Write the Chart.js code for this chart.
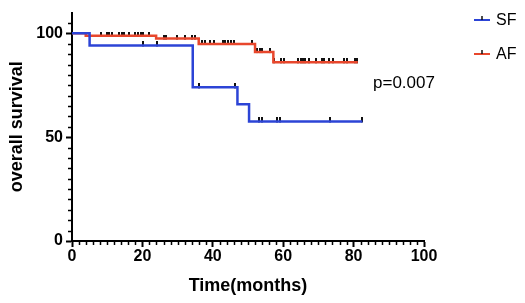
<!DOCTYPE html>
<html>
<head>
<meta charset="utf-8">
<script src="https://cdn.jsdelivr.net/npm/chart.js@4/dist/chart.umd.min.js"></script>
<style>
  html, body { margin: 0; padding: 0; background: #fff; }
  #wrap { width: 525px; height: 303px; }
</style>
</head>
<body>
<div id="wrap"><canvas id="kmChart"></canvas></div>
<script>
// Kaplan-Meier steps: time (months) and survival (%) after each event
const sfTimes = [0, 5, 34.3, 47, 50.3, 82.5];
const sfSurvival = [100, 94.2, 74, 65.9, 57.6, 57.6];
const sfCensored = [20.1, 24.1, 36.2, 46.2, 53.1, 54.1, 58.1, 59.1, 73.3, 82.5];

const afTimes = [0, 3.9, 23.9, 36.0, 52.0, 57.2, 81.2];
const afSurvival = [100, 98.8, 97.5, 94.9, 91.0, 86.1, 86.1];
const afCensored = [8.1, 9.9, 10.6, 11.4, 13.4, 14.2, 14.9, 16.2, 17.9, 18.7, 19.5, 20.2, 22.0,
    26.0, 26.8, 29.8, 32.0, 34.2, 35.0,
    36.9, 37.7, 39.3, 40.2, 42.8, 43.6, 44.3, 45.1, 45.9, 51.1,
    52.6, 53.3, 54.1, 56.3,
    57.5, 59.3, 60.1, 64.3, 65.0, 65.5, 66.3, 67.2, 69.3, 71.0, 71.6, 73.1, 74.1, 77.4, 78.0, 80.4, 81.0];

const groupNames = ['SF', 'AF'];
const pValueText = 'p=0.007';
const xTicks = [0, 20, 40, 60, 80, 100];

const blue = '#2c44d6';
const red = '#e8472c';

// survival level at a censor time
function levelAt(times, surv, t) {
    let s = surv[0];
    for (let i = 0; i < times.length; i++) {
        if (times[i] <= t) s = surv[i];
    }
    return s;
}

function stepPoints(times, surv) {
    return times.map((t, i) => ({x: t, y: surv[i]}));
}

function censorPoints(times, surv, cens) {
    return cens.map(t => ({x: t, y: levelAt(times, surv, t)}));
}

// small vertical dash sitting on the line
const tick = document.createElement('canvas');
tick.width = 2;
tick.height = 8;
const tctx = tick.getContext('2d');
tctx.fillStyle = '#111';
tctx.fillRect(0, 0, 2, 5);

const extras = {
    id: 'extras',
    afterDraw(chart) {
        const ctx = chart.ctx;
        const xs = chart.scales.x;
        const ys = chart.scales.y;
        ctx.save();
        ctx.strokeStyle = '#000';
        ctx.lineWidth = 1.5;
        // minor ticks
        for (let v = 0; v <= 100; v += 2) {
            if (v % 20 === 0) continue;
            const px = Math.round(xs.getPixelForValue(v)) + 0.5;
            ctx.beginPath();
            ctx.moveTo(px, ys.bottom);
            ctx.lineTo(px, ys.bottom + 4);
            ctx.stroke();
        }
        for (let v = 5; v <= 105; v += 5) {
            if (v % 50 === 0) continue;
            const py = Math.round(ys.getPixelForValue(v)) + 0.5;
            ctx.beginPath();
            ctx.moveTo(xs.left - 4, py);
            ctx.lineTo(xs.left, py);
            ctx.stroke();
        }

        // legend
        const lx = chart.chartArea.right + 50;
        const colors = [blue, red];
        const rows = [20, 54];
        ctx.font = '16px "Liberation Sans", Arial, sans-serif';
        ctx.textBaseline = 'middle';
        ctx.textAlign = 'left';
        groupNames.forEach((name, i) => {
            const y = rows[i];
            ctx.strokeStyle = colors[i];
            ctx.lineWidth = 2;
            ctx.beginPath();
            ctx.moveTo(lx, y);
            ctx.lineTo(lx + 16, y);
            ctx.stroke();
            ctx.strokeStyle = '#111';
            ctx.lineWidth = 1.5;
            ctx.beginPath();
            ctx.moveTo(lx + 8, y - 4);
            ctx.lineTo(lx + 8, y);
            ctx.stroke();
            ctx.fillStyle = '#000';
            ctx.fillText(name, lx + 22, y + 1);
        });

        ctx.font = '17px "Liberation Sans", Arial, sans-serif';
        ctx.fillText(pValueText, chart.chartArea.right - 51, 83);
        ctx.restore();
    }
};

new Chart(document.getElementById('kmChart'), {
    type: 'line',
    data: {
        datasets: [
            {
                label: groupNames[0],
                data: stepPoints(sfTimes, sfSurvival),
                borderColor: blue,
                borderWidth: 2.5,
                stepped: true,
                pointRadius: 0,
                fill: false,
            },
            {
                label: groupNames[1],
                data: stepPoints(afTimes, afSurvival),
                borderColor: red,
                borderWidth: 2.5,
                stepped: true,
                pointRadius: 0,
                fill: false,
            },
            {
                label: groupNames[0] + ' censored',
                data: censorPoints(sfTimes, sfSurvival, sfCensored),
                showLine: false,
                pointStyle: tick,
                pointRadius: 4,
                clip: false,
            },
            {
                label: groupNames[1] + ' censored',
                data: censorPoints(afTimes, afSurvival, afCensored),
                showLine: false,
                pointStyle: tick,
                pointRadius: 4,
                clip: false,
            },
        ]
    },
    options: {
        responsive: true,
        maintainAspectRatio: false,
        animation: false,
        layout: {
            padding: {top: 6, right: 101, left: 0, bottom: 0}
        },
        plugins: {
            legend: {display: false},
            tooltip: {enabled: false},
        },
        scales: {
            x: {
                type: 'linear',
                min: 0,
                max: 100,
                afterFit: scale => { scale.height = 62; },
                afterBuildTicks: scale => { scale.ticks = xTicks.map(v => ({value: v})); },
                ticks: {
                    color: '#000',
                    padding: 0,
                    maxRotation: 0,
                    font: {family: '"Liberation Sans", Arial, sans-serif', size: 16, weight: 'bold'},
                },
                grid: {drawOnChartArea: false, tickLength: 6, tickWidth: 2, tickColor: '#000'},
                border: {color: '#000', width: 2},
                title: {
                    display: true,
                    text: 'Time(months)',
                    color: '#000',
                    padding: {top: 0, bottom: 6},
                    font: {family: '"Liberation Sans", Arial, sans-serif', size: 18, weight: 'bold'},
                },
            },
            y: {
                min: 0,
                max: 110,
                afterFit: scale => { scale.width = 72; },
                ticks: {
                    stepSize: 50,
                    includeBounds: false,
                    color: '#000',
                    padding: 3,
                    font: {family: '"Liberation Sans", Arial, sans-serif', size: 16, weight: 'bold'},
                },
                grid: {drawOnChartArea: false, tickLength: 6, tickWidth: 2, tickColor: '#000'},
                border: {color: '#000', width: 2},
                title: {
                    display: true,
                    text: 'overall survival',
                    color: '#000',
                    padding: {top: 6, bottom: 0},
                    font: {family: '"Liberation Sans", Arial, sans-serif', size: 18, weight: 'bold'},
                },
            },
        },
    },
    plugins: [extras],
});
</script>
</body>
</html>
